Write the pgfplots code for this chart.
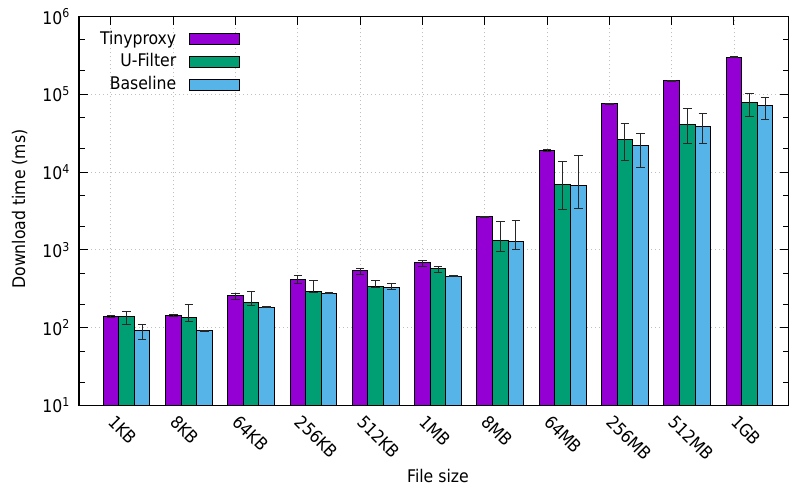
\documentclass[border=0pt]{standalone}
\usepackage{fontspec}
\setmainfont{DejaVu Sans Condensed}
\usepackage{pgfplots}
\usepackage{pgfplotstable}
\pgfplotsset{compat=1.18}
\definecolor{cT}{HTML}{9400D3}
\definecolor{cU}{HTML}{009E73}
\definecolor{cB}{HTML}{56B4E9}

\pgfplotstableread{
x y ep em
0 140 4 4
4 143 4 4
8 262 17 34
12 421 43 47
16 545 28 60
20 681 48 76
24 2650 70 70
28 18970 400 400
32 75300 1200 1200
36 150000 2500 2500
40 301000 5000 5000
}\dataT
\pgfplotstableread{
x y ep em
1 138 24 27
5 137 64 17
9 209 83 14
13 290 119 5
17 336 67 5
21 582 36 70
25 1330 975 387
29 6950 6890 3620
33 26250 15850 12250
37 40900 24100 17800
41 78300 24700 26100
}\dataU
\pgfplotstableread{
x y ep em
2 91 19 21
6 91.5 1 1
10 184 2 2
14 279 3 3
18 326 44 13
22 460 5 5
26 1290 1086 281
30 6700 9520 3250
34 22200 9100 10600
38 38900 18100 15800
42 71600 20000 24200
}\dataB

\pgfplotsset{
  mybar/.style={ybar, bar width=1, bar shift=0pt, draw=black, line width=1bp,
    fill=#1,
    legend image code/.code={\draw[fill=#1, draw=black, line width=1bp] (0bp,-5.2bp) rectangle (49.6bp,6.2bp);},
    error bars/.cd, y dir=both, y explicit,
    error bar style={black!85, line width=1bp},
    error mark options={rotate=90, black!85, line width=1bp, mark size=4.3bp}},
}

\begin{document}
\begin{tikzpicture}[font=\fontsize{17.5}{21}\selectfont]
\useasboundingbox (0,0) rectangle (789bp,487bp);
\begin{axis}[
  at={(79bp,81.5bp)}, anchor=south west,
  scale only axis, width=709.5bp, height=389bp,
  ymode=log, ymin=10, ymax=1000000, log origin=infty,
  xmin=-2.05, xmax=43.5,
  xtick={0,4,...,40},
  xticklabels={1KB,8KB,64KB,256KB,512KB,1MB,8MB,64MB,256MB,512MB,1GB},
  ytick={10,100,1000,10000,100000,1000000},
  yticklabels={10\textsuperscript{1},10\textsuperscript{2},10\textsuperscript{3},10\textsuperscript{4},10\textsuperscript{5},10\textsuperscript{6}},
  minor ytick={20,50,200,500,2000,5000,20000,50000,200000,500000},
  major tick length=9bp, minor tick length=5.5bp,
  tick style={black, line width=1bp},
  axis line style={black, line width=1.2bp},
  grid=major,
  major grid style={gray!50, line width=0.9bp, dash pattern=on 1bp off 3bp},
  xticklabel style={yshift=-17.5bp, xshift=-4bp, rotate=-45, anchor=base west, inner sep=0pt},
  yticklabel style={anchor=east, inner sep=0pt, xshift=-9bp},
  xlabel={File size},
  ylabel={Download time (ms)},
  xlabel style={at={(axis description cs:0.506,-0.1985)}, anchor=base},
  ylabel style={at={(axis description cs:-0.0761,0.505)}, anchor=base},
  legend cell align=right,
  legend plot pos=right,
  legend style={draw=none, fill=none, at={(axis description cs:0.2308,0.9666)}, anchor=north east,
    nodes={inner sep=0pt, text height=12.5bp, text depth=3.5bp}, row sep=6.8bp, column sep=12.7bp},
]
\addplot[mybar=cT] table[x=x, y=y, y error plus=ep, y error minus=em] {\dataT};
\addlegendentry{Tinyproxy}
\addplot[mybar=cU] table[x=x, y=y, y error plus=ep, y error minus=em] {\dataU};
\addlegendentry{U-Filter}
\addplot[mybar=cB] table[x=x, y=y, y error plus=ep, y error minus=em] {\dataB};
\addlegendentry{Baseline}
\end{axis}
\end{tikzpicture}
\end{document}
